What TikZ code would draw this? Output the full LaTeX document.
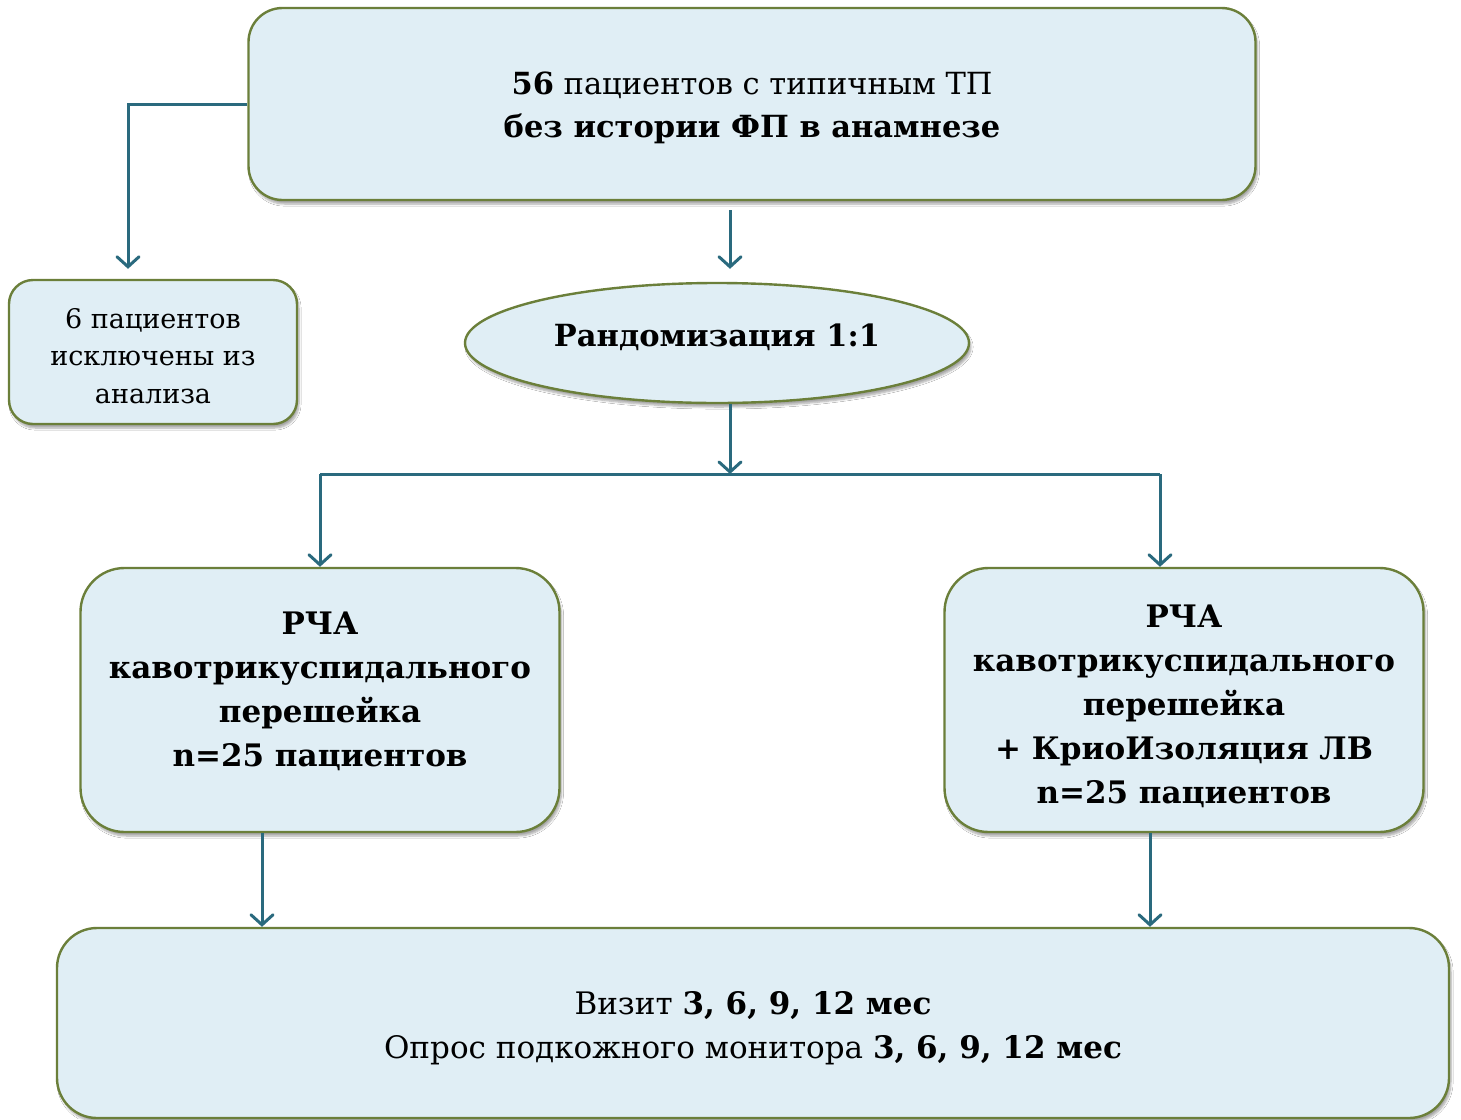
\documentclass[tikz,border=0pt]{standalone}
\usepackage{fontspec}
\setmainfont{DejaVu Serif}
\usepackage{tikz}
\usetikzlibrary{arrows.meta,shapes.geometric,shadows.blur}
\definecolor{flowfill}{HTML}{E0EEF5}
\definecolor{flowedge}{HTML}{6B7F3A}
\definecolor{flowteal}{HTML}{2A6A7E}

\begin{document}
\begin{tikzpicture}[x=1pt, y=-1pt,
    flowbox/.style={draw=flowedge, line width=2.4pt, fill=flowfill, align=center,
      inner sep=0pt, blur shadow={shadow xshift=2pt, shadow yshift=-4pt, shadow opacity=35, shadow blur steps=6}},
    flowarrow/.style={draw=flowteal, line width=3pt, -{Straight Barb[length=10pt, width=22pt, line cap=round]}},
    flowline/.style={draw=flowteal, line width=3pt}]
  \useasboundingbox (0,0) rectangle (1461,1119);
  \fill[white] (0,0) rectangle (1461,1119);

  % boxes
  \node[flowbox, rounded corners=34pt, minimum width=1007pt, minimum height=192pt,
    font=\fontsize{30.5}{43}\selectfont] (patients) at (752,104) {%
    \rule{0pt}{30pt}\textbf{56} пациентов с типичным ТП\\
    \textbf{без истории ФП в анамнезе}};
  \node[flowbox, rounded corners=24pt, minimum width=288pt, minimum height=144pt,
    font=\fontsize{27}{37.5}\selectfont] (excluded) at (153,352) {%
    \rule{0pt}{28pt}6 пациентов\\ исключены из\\ анализа};
  \node[flowbox, ellipse, minimum width=504pt, minimum height=120pt,
    font=\bfseries\fontsize{30.5}{43}\selectfont] (random) at (717,343) {%
    Рандомизация 1:1\rule[-15pt]{0pt}{1pt}};
  \node[flowbox, rounded corners=44pt, minimum width=479pt, minimum height=264pt,
    font=\bfseries\fontsize{31}{44}\selectfont] (rfa) at (320,700) {%
    РЧА\\ кавотрикуспидального\\ перешейка\\ n=25 пациентов\rule[-22pt]{0pt}{1pt}};
  \node[flowbox, rounded corners=44pt, minimum width=479pt, minimum height=264pt,
    font=\bfseries\fontsize{31}{44}\selectfont] (cryo) at (1184,700) {%
    \rule{0pt}{36pt}РЧА\\ кавотрикуспидального\\ перешейка\\ + КриоИзоляция ЛВ\\ n=25 пациентов};
  \node[flowbox, rounded corners=40pt, minimum width=1392pt, minimum height=190pt,
    font=\fontsize{31}{44}\selectfont] (visits) at (753,1023) {%
    \rule{0pt}{33pt}Визит \textbf{3, 6, 9, 12 мес}\\
    Опрос подкожного монитора \textbf{3, 6, 9, 12 мес}};

  % connectors
  \coordinate (gap) at (730,210);
  \coordinate (split) at (730,474);
  \draw[flowarrow] (patients.west) -| ([yshift=10pt]excluded.north -| 128,0);
  \draw[flowarrow] (gap) -- ([yshift=13pt]random.north -| gap);
  \draw[flowarrow] (random.south -| split) -- (split);
  \draw[flowline] (split -| rfa.north) -- (split -| 1160,0);
  \draw[flowarrow] (split -| rfa.north) -- (rfa.north);
  \draw[flowarrow] (split -| 1160,0) -- (cryo.north -| 1160,0);
  \draw[flowarrow] (rfa.south -| 262,0) -- (visits.north -| 262,0);
  \draw[flowarrow] (cryo.south -| 1150,0) -- (visits.north -| 1150,0);
\end{tikzpicture}
\end{document}
